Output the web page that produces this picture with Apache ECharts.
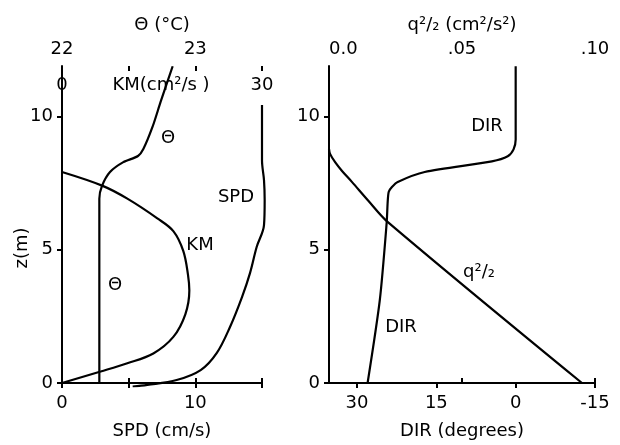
<!DOCTYPE html>
<html>
<head>
<meta charset="utf-8">
<style>
  html, body { margin: 0; padding: 0; background: #fff; }
  #chart { width: 620px; height: 445px; }
</style>
<script src="https://cdn.jsdelivr.net/npm/echarts/dist/echarts.min.js"></script>
</head>
<body>
<div id="chart"></div>
<script>
// ---- Data ----
// Left panel: heights z (m) and profiles
const thetaZ = [11.89, 10.56, 9.63, 8.78, 8.52, 8.29, 7.92, 7.40, 6.92, 5.99, 0];
const thetaT = [22.83, 22.74, 22.68, 22.61, 22.57, 22.46, 22.36, 22.30, 22.28, 22.28, 22.28];

const kmZ = [7.92, 7.40, 6.92, 6.18, 5.70, 4.95, 4.06, 3.47, 2.58, 1.73, 1.11, 0.74, 0.43, 0];
const kmV = [0, 6.1, 9.8, 14.3, 16.7, 18.2, 18.9, 19.1, 18.5, 16.7, 13.7, 9.8, 5.8, 0];

const spdZ = [10.45, 8.40, 7.66, 6.92, 5.99, 5.18, 4.21, 3.32, 2.21, 1.24, 0.61, 0.24, 0.06, 0];
const spdV = [15.0, 15.0, 15.15, 15.2, 15.15, 14.6, 14.1, 13.5, 12.6, 11.6, 10.4, 8.6, 6.4, 5.3];

// Right panel
const dirZ = [11.89, 9.14, 8.77, 8.51, 8.32, 7.92, 7.55, 7.36, 7.18, 6.81, 6.0, 3.10, 0];
const dirV = [0, 0, 0.4, 1.5, 4.5, 17.2, 22.3, 23.4, 24.0, 24.2, 24.4, 25.7, 28.0];

const qZ = [8.79, 8.6, 8.29, 7.96, 7.55, 6.85, 6.07, 0];
const qV = [0, 0.0004, 0.0023, 0.0049, 0.0086, 0.0147, 0.0218, 0.0951];

// Tick labels
const zTicks = [0, 5, 10];
const thetaTicks = [22, 22.5, 23, 23.5];
const thetaLabels = [22, 23];
const kmTicks = [0, 10, 20, 30];
const kmLabels = [0, 30];
const spdTicks = [0, 5, 10, 15];
const spdLabels = [0, 10];
const qTicks = [0, 0.05, 0.1];
const qLabels = ['0.0', '.05', '.10'];
const dirTicks = [-15, 0, 15, 30];

// ---- Chart ----
const FONT = 'DejaVu Sans';
const FS = 18;
const pair = (xs, zs) => xs.map((v, i) => [v, zs[i]]);
const chart = echarts.init(document.getElementById('chart'), null, { renderer: 'canvas' });

const lineStyle = { color: '#000', width: 2.2 };
const axisLine = { show: true, lineStyle: { color: '#000', width: 2 } };
const tickStyle = { color: '#000', width: 2 };
const lbl = { color: '#000', fontFamily: FONT, fontSize: FS };
const nameStyle = { color: '#000', fontFamily: FONT, fontSize: FS };

function yAxis(gridIndex) {
  return {
    type: 'value', gridIndex, min: 0, max: 11.9,
    axisLine, splitLine: { show: false },
    axisTick: { show: true, length: 5, lineStyle: tickStyle, customValues: zTicks },
    axisLabel: Object.assign({ margin: 9, customValues: zTicks, verticalAlignMinLabel: 'middle' }, lbl)
  };
}

// Width of the grid used by the SPD curve so that its slight excursion past 15 cm/s is not clipped
const spdGridWidth = 220;

const common = { type: 'line', showSymbol: false, lineStyle };

const option = {
  backgroundColor: '#fff',
  animation: false,
  grid: [
    { left: 62, top: 66, width: 200, height: 320.5 },
    { left: 329, top: 66, width: 266, height: 320.5 },
    { left: 62, top: 66, width: spdGridWidth, height: 320.5 }
  ],
  xAxis: [
    { // theta (top, left panel)
      type: 'value', gridIndex: 0, position: 'top', min: 22, max: 23.5,
      axisLine, splitLine: { show: false },
      axisTick: { show: true, length: 5, lineStyle: tickStyle, customValues: thetaTicks },
      axisLabel: Object.assign({ margin: 8, customValues: thetaLabels }, lbl),
      name: 'Θ (°C)', nameLocation: 'middle', nameGap: 32, nameMoveOverlap: false, nameTextStyle: nameStyle
    },
    { // KM (top inside, left panel)
      type: 'value', gridIndex: 0, position: 'top', min: 0, max: 30,
      axisLine: { show: false }, splitLine: { show: false },
      axisTick: { show: true, inside: true, length: 5, lineStyle: tickStyle, customValues: kmTicks },
      axisLabel: Object.assign({ inside: true, margin: 10, customValues: kmLabels }, lbl)
    },
    { // SPD (bottom, left panel)
      type: 'value', gridIndex: 0, position: 'bottom', min: 0, max: 15,
      axisLine, splitLine: { show: false },
      axisTick: { show: true, length: 5, lineStyle: tickStyle, customValues: spdTicks },
      axisLabel: Object.assign({ margin: 11, customValues: spdLabels }, lbl),
      name: 'SPD (cm/s)', nameLocation: 'middle', nameGap: 39, nameMoveOverlap: false, nameTextStyle: nameStyle
    },
    { // q^2/2 (top, right panel)
      type: 'value', gridIndex: 1, position: 'top', min: 0, max: 0.1,
      axisLine, splitLine: { show: false },
      axisTick: { show: true, length: 5, lineStyle: tickStyle, customValues: qTicks },
      axisLabel: Object.assign({ margin: 8, customValues: qTicks, alignMinLabel: 'left',
        formatter: v => { const i = qTicks.findIndex(t => Math.abs(t - v) < 1e-9); return i >= 0 ? qLabels[i] : ''; } }, lbl),
      name: 'q²/₂ (cm²/s²)', nameLocation: 'middle', nameGap: 32, nameMoveOverlap: false, nameTextStyle: nameStyle
    },
    { // DIR (bottom, right panel), reversed
      type: 'value', gridIndex: 1, position: 'bottom', min: -15, max: 35.3, inverse: true,
      axisLine, splitLine: { show: false },
      axisTick: { show: true, length: 5, lineStyle: tickStyle, customValues: dirTicks },
      axisLabel: Object.assign({ margin: 11, customValues: dirTicks }, lbl),
      name: 'DIR (degrees)', nameLocation: 'middle', nameGap: 39, nameMoveOverlap: false, nameTextStyle: nameStyle
    },
    { // hidden SPD scale (same mapping as visible SPD axis: 15 cm/s per 200 px)
      type: 'value', gridIndex: 2, min: 0, max: 15 * spdGridWidth / 200, show: false
    }
  ],
  yAxis: [yAxis(0), yAxis(1), { type: 'value', gridIndex: 2, min: 0, max: 11.9, show: false }],
  series: [
    Object.assign({ name: 'Θ', xAxisIndex: 0, yAxisIndex: 0, data: pair(thetaT, thetaZ), smooth: 0.25, clip: false }, common),
    Object.assign({ name: 'KM', xAxisIndex: 1, yAxisIndex: 0, data: pair(kmV, kmZ), smooth: 0.35, clip: false }, common),
    Object.assign({ name: 'SPD', xAxisIndex: 5, yAxisIndex: 2, data: pair(spdV, spdZ), smooth: 0.35, clip: true }, common),
    Object.assign({ name: 'q2/2', xAxisIndex: 3, yAxisIndex: 1, data: pair(qV, qZ), smooth: 0.3, clip: false }, common),
    Object.assign({ name: 'DIR', xAxisIndex: 4, yAxisIndex: 1, data: pair(dirV, dirZ), smooth: 0.25, clip: false }, common)
  ],
  graphic: [
    { type: 'text', x: 22, y: 248, rotation: Math.PI / 2,
      style: { text: 'z(m)', font: FS + 'px "DejaVu Sans"', fill: '#000', textAlign: 'center', textVerticalAlign: 'middle' } },
    { type: 'text', x: 161, y: 85, style: { text: 'KM(cm²/s )', font: FS + 'px "DejaVu Sans"', fill: '#000', textAlign: 'center', textVerticalAlign: 'middle' } },
    { type: 'text', x: 168, y: 138, style: { text: 'Θ', font: FS + 'px "DejaVu Sans"', fill: '#000', textAlign: 'center', textVerticalAlign: 'middle' } },
    { type: 'text', x: 236, y: 197, style: { text: 'SPD', font: FS + 'px "DejaVu Sans"', fill: '#000', textAlign: 'center', textVerticalAlign: 'middle' } },
    { type: 'text', x: 200, y: 245, style: { text: 'KM', font: FS + 'px "DejaVu Sans"', fill: '#000', textAlign: 'center', textVerticalAlign: 'middle' } },
    { type: 'text', x: 115, y: 285, style: { text: 'Θ', font: FS + 'px "DejaVu Sans"', fill: '#000', textAlign: 'center', textVerticalAlign: 'middle' } },
    { type: 'text', x: 487, y: 126, style: { text: 'DIR', font: FS + 'px "DejaVu Sans"', fill: '#000', textAlign: 'center', textVerticalAlign: 'middle' } },
    { type: 'text', x: 479, y: 272, style: { text: 'q²/₂', font: FS + 'px "DejaVu Sans"', fill: '#000', textAlign: 'center', textVerticalAlign: 'middle' } },
    { type: 'text', x: 401, y: 327, style: { text: 'DIR', font: FS + 'px "DejaVu Sans"', fill: '#000', textAlign: 'center', textVerticalAlign: 'middle' } }
  ]
};
chart.setOption(option);
</script>
</body>
</html>
